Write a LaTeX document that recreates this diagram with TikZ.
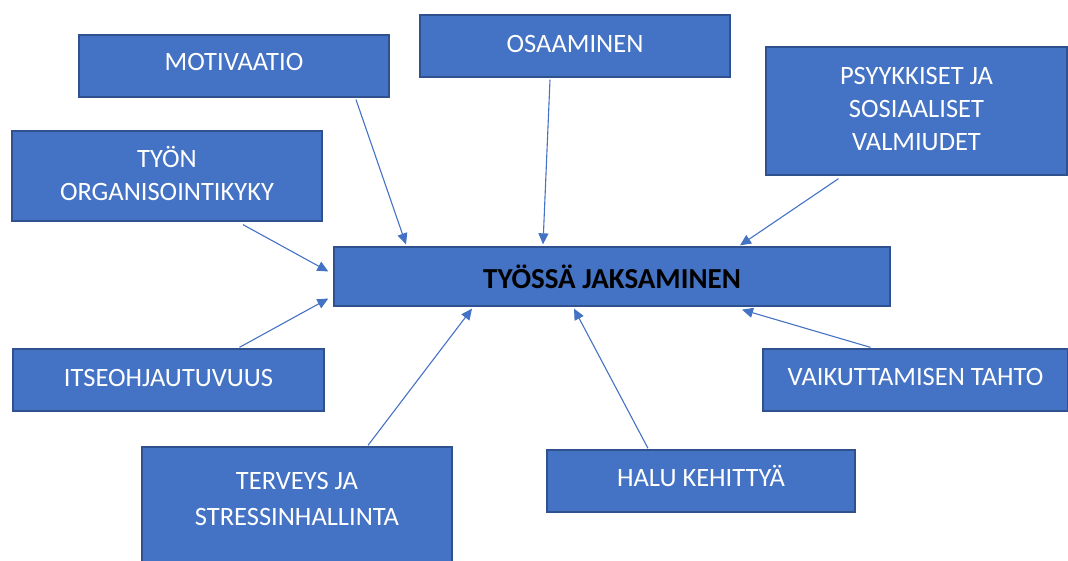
\documentclass[tikz,border=0pt]{standalone}
\usepackage{fontspec}
\setmainfont{Carlito}
\usetikzlibrary{arrows.meta}
\definecolor{boxblue}{HTML}{4472C4}
\definecolor{boxedge}{HTML}{2F528F}
\begin{document}
\begin{tikzpicture}[x=1pt,y=-1pt,
    box/.style={draw=boxedge,line width=1.3pt,fill=boxblue,text=white,align=center,
        font=\fontsize{26.5}{33}\selectfont,inner sep=0pt},
    arr/.style={draw=boxblue,line width=1.1pt,-{Triangle[length=11pt,width=10pt]}}]
    \useasboundingbox (0,0) rectangle (1068,561);
    \node[box,minimum width=556pt,minimum height=59pt,text=black,font=\fontsize{29}{33}\selectfont\bfseries] (hub) at (612,276.5) {TYÖSSÄ JAKSAMINEN};
    \node[box,minimum width=310pt,minimum height=62pt,text depth=8pt] (mot) at (234,66) {MOTIVAATIO};
    \node[box,minimum width=310pt,minimum height=62pt,text depth=4pt] (osa) at (575,46) {OSAAMINEN};
    \node[box,minimum width=301pt,minimum height=128pt,text depth=4pt] (psy) at (916.5,111) {PSYYKKISET JA\\SOSIAALISET\\VALMIUDET};
    \node[box,minimum width=310pt,minimum height=90pt,text depth=6pt] (tyon) at (167,176) {TYÖN\\ORGANISOINTIKYKY};
    \node[box,minimum width=311pt,minimum height=62pt,text depth=5pt] (itse) at (168.5,380) {ITSEOHJAUTUVUUS};
    \node[box,minimum width=305pt,minimum height=62pt,text depth=7pt] (vai) at (915.5,380) {VAIKUTTAMISEN TAHTO};
    \node[box,minimum width=310pt,minimum height=126pt,text depth=22pt,font=\fontsize{26.5}{36}\selectfont] (ter) at (297,510) {TERVEYS JA\\STRESSINHALLINTA};
    \node[box,minimum width=308pt,minimum height=62pt,text depth=11pt] (halu) at (701,481) {HALU KEHITTYÄ};
    \draw[arr] ([xshift=122pt,yshift=-2pt]mot.south) -- ([xshift=-206pt,yshift=2pt]hub.north);
    \draw[arr] ([xshift=-25pt,yshift=-2pt]osa.south) -- ([xshift=-69pt,yshift=2pt]hub.north);
    \draw[arr] ([xshift=-78pt,yshift=-3pt]psy.south) -- ([xshift=128pt,yshift=1pt]hub.north);
    \draw[arr] ([xshift=76pt,yshift=-3pt]tyon.south) -- ([xshift=-5pt,yshift=5pt]hub.west);
    \draw[arr] ([xshift=71pt,yshift=1pt]itse.north) -- ([xshift=-5pt,yshift=-22pt]hub.west);
    \draw[arr] ([xshift=71pt,yshift=1pt]ter.north) -- ([xshift=-140pt,yshift=-2pt]hub.south);
    \draw[arr] ([xshift=-53pt,yshift=1pt]halu.north) -- ([xshift=-38pt,yshift=-2pt]hub.south);
    \draw[arr] ([xshift=-45pt,yshift=1pt]vai.north) -- ([xshift=130pt,yshift=-3pt]hub.south);
\end{tikzpicture}
\end{document}
